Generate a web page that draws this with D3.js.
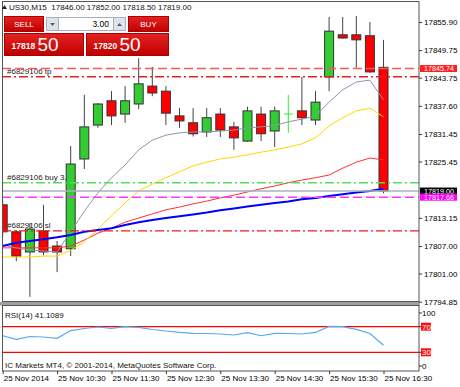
<!DOCTYPE html>
<html>
<head>
<meta charset="utf-8">
<script src="https://cdn.jsdelivr.net/npm/d3@7"></script>
<style>
body { margin: 0; background: #fff; }
svg { display: block; font-family: "Liberation Sans", Arial, sans-serif; }
</style>
</head>
<body>
<script>
// US30 M15 candles, 09:30 .. 16:30
const opens  = [17816.0, 17810.1, 17805.7, 17810.3, 17807.0, 17806.4, 17826.0, 17833.4, 17838.7, 17835.8, 17838.0, 17841.9, 17840.8, 17835.4, 17833.9, 17831.9, 17835.8, 17833.0, 17829.9, 17835.8, 17832.1, 17835.8, 17836.5, 17834.5, 17843.9, 17853.1, 17853.1, 17852.9, 17846.0];
const highs  = [17817.0, 17810.5, 17812.0, 17816.0, 17808.1, 17828.8, 17840.0, 17838.2, 17840.8, 17841.9, 17848.0, 17846.1, 17841.9, 17837.1, 17837.1, 17837.1, 17837.1, 17834.1, 17837.4, 17837.4, 17837.4, 17840.0, 17843.9, 17840.8, 17857.0, 17857.0, 17857.2, 17855.9, 17852.0];
const lows   = [17809.0, 17803.7, 17795.9, 17805.0, 17801.3, 17804.8, 17823.8, 17832.8, 17833.4, 17833.9, 17836.9, 17839.7, 17833.4, 17832.8, 17830.9, 17830.8, 17830.8, 17828.0, 17829.7, 17829.9, 17828.6, 17831.7, 17833.4, 17833.4, 17840.8, 17852.3, 17845.9, 17844.8, 17818.5];
const closes = [17810.1, 17804.8, 17810.7, 17805.7, 17805.7, 17824.9, 17833.0, 17838.0, 17835.4, 17838.7, 17842.4, 17840.4, 17836.0, 17834.3, 17831.5, 17835.0, 17832.3, 17830.6, 17836.5, 17831.5, 17836.5, 17835.8, 17835.0, 17838.4, 17853.9, 17852.4, 17852.0, 17845.0, 17819.0];

// moving averages
const maGray   = [17807.2, 17806.6, 17806.1, 17805.9, 17805.7, 17810.1, 17814.6, 17818.6, 17821.9, 17824.7, 17828.0, 17830.1, 17831.2, 17831.7, 17831.9, 17831.9, 17832.1, 17832.3, 17832.8, 17833.0, 17833.3, 17834.1, 17834.7, 17835.4, 17838.4, 17841.1, 17842.8, 17843.2, 17838.9];
const maYellow = [17804.6, 17804.6, 17804.6, 17804.8, 17804.8, 17806.1, 17807.9, 17810.7, 17813.6, 17816.4, 17819.0, 17820.5, 17821.9, 17823.2, 17824.5, 17825.3, 17826.0, 17826.4, 17826.9, 17827.5, 17828.0, 17828.6, 17829.3, 17830.6, 17833.2, 17835.0, 17836.5, 17837.1, 17835.2];
const maRed    = [17806.6, 17806.6, 17806.6, 17806.6, 17806.6, 17807.0, 17808.3, 17809.8, 17810.9, 17812.2, 17813.1, 17814.0, 17814.9, 17815.5, 17816.2, 17816.8, 17817.5, 17818.1, 17818.8, 17819.5, 17820.1, 17820.8, 17821.4, 17821.9, 17822.5, 17824.0, 17825.3, 17826.2, 17825.8];
const maBlue   = [17807.0, 17807.7, 17808.1, 17808.5, 17808.9, 17809.4, 17810.1, 17810.5, 17810.9, 17811.6, 17812.2, 17812.7, 17813.1, 17813.5, 17813.9, 17814.3, 17814.8, 17815.2, 17815.6, 17816.0, 17816.4, 17816.7, 17817.2, 17817.5, 17817.9, 17818.3, 17818.7, 17819.0, 17819.5];

const rsi = [55.9, 50.3, 54.7, 53.9, 51.9, 64.0, 67.2, 69.5, 67.5, 70.0, 69.0, 65.6, 63.3, 61.0, 59.7, 59.4, 58.6, 57.0, 60.6, 55.9, 59.7, 59.4, 58.6, 61.0, 70.5, 70.2, 65.9, 59.4, 41.1089];

const priceTicks = [17855.90, 17849.75, 17843.75, 17837.60, 17831.45, 17825.45, 17813.15, 17807.00, 17801.00, 17794.85];
const timeTickIdx = [0, 4, 8, 12, 16, 20, 24, 28];
const timeLabels = ["25 Nov 2014", "25 Nov 10:30", "25 Nov 11:30", "25 Nov 12:30", "25 Nov 13:30", "25 Nov 14:30", "25 Nov 15:30", "25 Nov 16:30"];

// order / price lines
const levelPrices = [17845.74, 17843.96, 17820.8, 17819.00, 17817.66, 17810.3];
const levelNames  = ["alert", "tp", "buy", "bid", "stop", "sl"];
const levelTexts  = ["", "#6829106 tp", "#6829106 buy 3.00", "", "", "#6829106 sl"];

const W = 460, H = 387;
const svg = d3.select('body').append('svg').attr('width', W).attr('height', H);

const x = d3.scaleLinear().domain([0, 28]).range([2.7, 383.5]);
const y = d3.scaleLinear().domain([17794.78, 17860.37]).range([302, 1.5]);
const ry = d3.scaleLinear().domain([0, 100]).range([371.5, 307.5]);

const defs = svg.append('defs');
defs.append('clipPath').attr('id', 'main').append('rect')
  .attr('x', 2.5).attr('y', 2).attr('width', 416.5).attr('height', 299.5);
defs.append('clipPath').attr('id', 'sub').append('rect')
  .attr('x', 2.5).attr('y', 306).attr('width', 416.5).attr('height', 65);
const grad = defs.append('linearGradient').attr('id', 'redg').attr('x1', 0).attr('x2', 0).attr('y1', 0).attr('y2', 1);
grad.append('stop').attr('offset', 0).attr('stop-color', '#e42222');
grad.append('stop').attr('offset', 1).attr('stop-color', '#c00000');

const main = svg.append('g').attr('clip-path', 'url(#main)');

// order labels (under the candles)
main.selectAll('text.lvl')
  .data(levelPrices.map((p, i) => ({p, t: levelTexts[i]})).filter(d => d.t))
  .join('text')
  .attr('class', 'lvl')
  .attr('x', 7)
  .attr('y', d => y(d.p) - 2.5)
  .attr('font-size', 8)
  .attr('fill', '#222')
  .text(d => d.t);

// candles
const candles = opens.map((o, i) => ({i, o, h: highs[i], l: lows[i], c: closes[i]}));
const bodyW = 9;
main.selectAll('line.wick')
  .data(candles)
  .join('line')
  .attr('class', 'wick')
  .attr('x1', d => x(d.i)).attr('x2', d => x(d.i))
  .attr('y1', d => y(d.h)).attr('y2', d => y(d.l))
  .style('stroke', d => d.o === d.c ? '#33ee33' : '#444')
  .style('stroke-width', 1);
main.selectAll('rect.body')
  .data(candles.filter(d => d.o !== d.c))
  .join('rect')
  .attr('class', 'body')
  .attr('x', d => x(d.i) - bodyW / 2)
  .attr('y', d => y(Math.max(d.o, d.c)))
  .attr('width', bodyW)
  .attr('height', d => Math.max(1, y(Math.min(d.o, d.c)) - y(Math.max(d.o, d.c))))
  .attr('fill', d => d.c > d.o ? '#33cc33' : '#ff0000')
  .attr('stroke', '#333')
  .attr('stroke-width', 1);
main.selectAll('line.doji')
  .data(candles.filter(d => d.o === d.c))
  .join('line')
  .attr('class', 'doji')
  .attr('x1', d => x(d.i) - bodyW / 2).attr('x2', d => x(d.i) + bodyW / 2)
  .attr('y1', d => y(d.o)).attr('y2', d => y(d.o))
  .style('stroke', '#33ee33');

// moving averages
const line = d3.line().x((d, i) => x(i)).y(d => y(d));
main.append('path').attr('d', line(maRed)).attr('fill', 'none').attr('stroke', '#ff3030').attr('stroke-width', 1);
main.append('path').attr('d', line(maYellow)).attr('fill', 'none').attr('stroke', '#ffd700').attr('stroke-width', 1);
main.append('path').attr('d', line(maGray)).attr('fill', 'none').attr('stroke', '#8896aa').attr('stroke-width', 1);
main.append('path').attr('d', line(maBlue)).attr('fill', 'none').attr('stroke', '#0000ff').attr('stroke-width', 2);

// horizontal price / order lines
const lvlStyle = {
  alert: {c: '#ff5555', dash: '9,4'},
  tp:    {c: '#ee1c1c', dash: '9,3,2,3'},
  buy:   {c: '#55dd55', dash: '9,3,2,3'},
  bid:   {c: '#a8b0b8', dash: 'none'},
  stop:  {c: '#ff33ff', dash: '9,4'},
  sl:    {c: '#ee1c1c', dash: '9,3,2,3'}
};
main.selectAll('path.level')
  .data(levelPrices.map((p, i) => ({p, n: levelNames[i]})))
  .join('path')
  .attr('class', 'level')
  .attr('d', d => `M2,${y(d.p)}H419`)
  .style('fill', 'none')
  .style('stroke', d => lvlStyle[d.n].c)
  .style('stroke-width', 1.4)
  .style('stroke-dasharray', d => lvlStyle[d.n].dash);

// frames
svg.append('rect').attr('x', 2.5).attr('y', 1.5).attr('width', 416.5).attr('height', 300)
  .attr('fill', 'none').attr('stroke', '#555');
svg.append('rect').attr('x', 0).attr('y', 302).attr('width', 420).attr('height', 3.5).attr('fill', '#a0a0a0');
svg.append('rect').attr('x', 2.5).attr('y', 305.5).attr('width', 416.5).attr('height', 65.5)
  .attr('fill', 'none').attr('stroke', '#555');

// price axis
const yAxis = svg.append('g').attr('transform', 'translate(419,0)')
  .call(d3.axisRight(y).tickValues(priceTicks).tickFormat(d3.format('.2f')).tickSize(3).tickPadding(2));
yAxis.select('.domain').remove();
yAxis.selectAll('text').attr('font-size', 8).attr('font-family', '"Liberation Sans", Arial, sans-serif').attr('fill', '#000');
yAxis.selectAll('line').attr('stroke', '#333');

// boxed price labels on the axis
const boxes = [
  {p: levelPrices[0], c: '#ff2020'},
  {p: levelPrices[3], c: '#000000'},
  {p: levelPrices[4], c: '#ff00ff'}
];
const bx = svg.selectAll('g.box').data(boxes).join('g').attr('class', 'box')
  .attr('transform', d => `translate(420,${y(d.p)})`);
bx.append('rect').attr('x', 0).attr('y', -3.5).attr('width', 37).attr('height', 7).attr('fill', d => d.c);
bx.append('text').attr('x', 4).attr('y', 2.5).attr('font-size', 7.2).attr('fill', '#fff').text(d => d3.format('.2f')(d.p));

// RSI panel
const sub = svg.append('g').attr('clip-path', 'url(#sub)');
[70, 30].forEach(v => {
  sub.append('line').attr('x1', 2).attr('x2', 419).attr('y1', ry(v)).attr('y2', ry(v))
    .attr('stroke', '#ff0000').attr('stroke-width', 1.2);
});
sub.append('path').attr('d', d3.line().x((d, i) => x(i)).y(d => ry(d))(rsi))
  .attr('fill', 'none').attr('stroke', '#55aaf2').attr('stroke-width', 1.2);
svg.append('text').attr('x', 5).attr('y', 318).attr('font-size', 8).attr('fill', '#111')
  .text('RSI(14) ' + d3.format('.4f')(rsi[rsi.length - 1]));
svg.append('text').attr('x', 5).attr('y', 368).attr('font-size', 8).attr('fill', '#111')
  .text('IC Markets MT4, \u00a9 2001-2014, MetaQuotes Software Corp.');

const rAx = svg.append('g');
[100, 70, 30, 0].forEach(v => {
  const yy = v === 100 ? ry(v) + 5.5 : v === 0 ? ry(v) - 5.5 : ry(v);
  rAx.append('line').attr('x1', 419).attr('x2', 422).attr('y1', yy).attr('y2', yy).attr('stroke', '#333');
  if (v === 70 || v === 30) {
    rAx.append('rect').attr('x', 421).attr('y', yy - 4).attr('width', 10).attr('height', 8).attr('fill', '#ff1010');
  }
  rAx.append('text').attr('x', 422).attr('y', yy + 3).attr('font-size', 8)
    .attr('fill', v === 70 || v === 30 ? '#fff' : '#000').text(v);
});

// time axis
const xAxis = svg.append('g').attr('transform', 'translate(0,371)')
  .call(d3.axisBottom(x).tickValues(timeTickIdx).tickFormat((d, i) => timeLabels[i]).tickSize(3).tickPadding(2));
xAxis.select('.domain').remove();
xAxis.selectAll('text').attr('font-size', 8).attr('font-family', '"Liberation Sans", Arial, sans-serif')
  .attr('fill', '#000').attr('text-anchor', 'start').attr('dx', 0.5).attr('dy', '0.6em');
xAxis.selectAll('line').attr('stroke', '#333');

// header
svg.append('path').attr('d', 'M2,9 L4.5,5 L7,9 Z').attr('fill', '#222');
svg.append('text').attr('x', 9).attr('y', 10).attr('font-size', 8).attr('fill', '#111')
  .style('white-space', 'pre')
  .text('US30,M15  ' + [opens[28], highs[28], lows[28], closes[28]].map(d3.format('.2f')).join(' '));

// one click trading panel
const panel = svg.append('g');
panel.append('rect').attr('x', 4.5).attr('y', 16.5).attr('width', 39).attr('height', 15)
  .attr('fill', 'url(#redg)').attr('stroke', '#a00');
panel.append('text').attr('x', 24).attr('y', 27).attr('text-anchor', 'middle').attr('font-size', 8).attr('fill', '#fff').text('SELL');
panel.append('rect').attr('x', 128.5).attr('y', 16.5).attr('width', 40).attr('height', 15)
  .attr('fill', 'url(#redg)').attr('stroke', '#a00');
panel.append('text').attr('x', 148.5).attr('y', 27).attr('text-anchor', 'middle').attr('font-size', 8).attr('fill', '#fff').text('BUY');
panel.append('rect').attr('x', 46.5).attr('y', 17.5).attr('width', 12).attr('height', 13).attr('fill', '#dfe4ea').attr('stroke', '#a8b0bc');
panel.append('path').attr('d', 'M50,23 L55,23 L52.5,26 Z').attr('fill', '#506080');
panel.append('rect').attr('x', 58.5).attr('y', 17.5).attr('width', 55).attr('height', 13).attr('fill', '#fff').attr('stroke', '#a8b0bc');
panel.append('text').attr('x', 109).attr('y', 27).attr('text-anchor', 'end').attr('font-size', 8.5).attr('fill', '#000').text('3.00');
panel.append('rect').attr('x', 113.5).attr('y', 17.5).attr('width', 12).attr('height', 13).attr('fill', '#dfe4ea').attr('stroke', '#a8b0bc');
panel.append('path').attr('d', 'M117,26 L122,26 L119.5,23 Z').attr('fill', '#506080');

const quotes = [{x: 4.5, w: 79, big: '17818', small: '50'}, {x: 86.5, w: 82, big: '17820', small: '50'}];
quotes.forEach(q => {
  panel.append('rect').attr('x', q.x).attr('y', 33.5).attr('width', q.w).attr('height', 22)
    .attr('fill', 'url(#redg)').attr('stroke', '#a00');
  panel.append('text').attr('x', q.x + 7).attr('y', 49).attr('font-size', 8.5).attr('font-weight', 'bold')
    .attr('fill', '#fff').text(q.big);
  panel.append('text').attr('x', q.x + 33).attr('y', 50.5).attr('font-size', 19).attr('fill', '#fff').text(q.small);
});
</script>
</body>
</html>
